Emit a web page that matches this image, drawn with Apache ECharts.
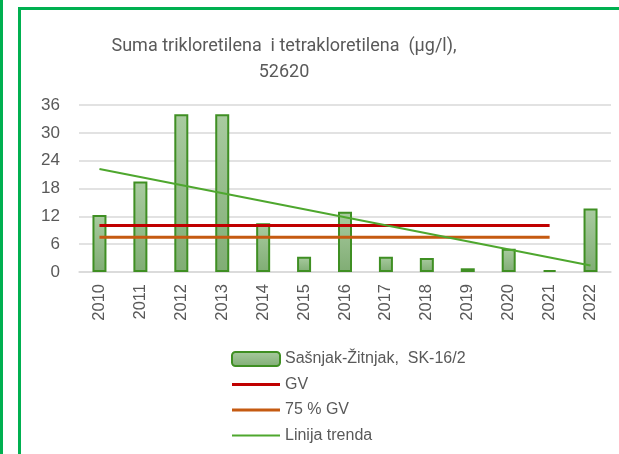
<!DOCTYPE html>
<html>
<head>
<meta charset="utf-8">
<script src="https://cdn.jsdelivr.net/npm/echarts@6/dist/echarts.min.js"></script>
<style>
  html, body { margin: 0; padding: 0; background: #fff; overflow: hidden; }
  #leftbar { position: absolute; left: 0; top: 0; width: 3px; height: 454px; background: #00b050; }
  #frame { position: absolute; left: 18px; top: 7px; width: 700px; height: 600px; border: 3px solid #00b050; }
  #chart { position: absolute; left: 0; top: 0; width: 619px; height: 454px; }
</style>
</head>
<body>
<div id="leftbar"></div>
<div id="frame"></div>
<div id="chart"></div>
<script>
// podaci
const years = ['2010', '2011', '2012', '2013', '2014', '2015', '2016', '2017', '2018', '2019', '2020', '2021', '2022'];
const suma = [12.3, 19.5, 34.0, 34.0, 10.5, 3.3, 13.0, 3.3, 3.0, 0.8, 5.0, 0.4, 13.7];
const gv = [10, 10, 10, 10, 10, 10, 10, 10, 10, 10, 10, 10, null];
const gv75 = [7.5, 7.5, 7.5, 7.5, 7.5, 7.5, 7.5, 7.5, 7.5, 7.5, 7.5, 7.5, null];
const trend = [22.2, null, null, null, null, null, null, null, null, null, null, null, 1.4];
const yTicks = [0, 6, 12, 18, 24, 30, 36];

const txt = '#595959';
const font = 'Liberation Sans, Arial, sans-serif';
// ikona linije za legendu
const lineIcon = 'path://M0,0 L48,0 L48,3 L0,3 Z';

let myChart = echarts.init(document.getElementById('chart'));
let option = {
  animation: false,
  textStyle: { fontFamily: font },
  title: {
    text: 'Suma trikloretilena  i tetrakloretilena  (µg/l),\n52620',
    left: 279,
    top: 28,
    textAlign: 'center',
    textStyle: { color: txt, fontSize: 18, fontWeight: 'normal', lineHeight: 26, fontFamily: 'Roboto, sans-serif' }
  },
  legend: {
    orient: 'vertical',
    left: 226,
    top: 346,
    itemWidth: 48,
    itemHeight: 14,
    itemGap: 9.5,
    textStyle: { color: txt, fontSize: 16, fontFamily: font },
    data: [
      { name: 'Sašnjak-Žitnjak,  SK-16/2' },
      { name: 'GV', icon: lineIcon },
      { name: '75 % GV', icon: lineIcon },
      { name: 'Linija trenda', icon: 'path://M0,0 L48,0 L48,2 L0,2 Z' }
    ]
  },
  grid: { left: 79, right: 8, top: 105, bottom: 182 },
  xAxis: {
    type: 'category',
    data: years,
    axisLine: { lineStyle: { color: '#d9d9d9', width: 1.5 } },
    axisTick: { show: false },
    axisLabel: { rotate: 90, color: txt, fontSize: 16.5, margin: 12 }
  },
  yAxis: {
    type: 'value',
    min: yTicks[0],
    max: yTicks[yTicks.length - 1],
    interval: 6,
    axisLine: { show: false },
    axisTick: { show: false },
    axisLabel: { color: txt, fontSize: 17, margin: 19 },
    splitLine: { lineStyle: { color: '#d9d9d9', width: 1.5 } }
  },
  series: [
    {
      name: 'Sašnjak-Žitnjak,  SK-16/2',
      type: 'bar',
      data: suma,
      barWidth: 14,
      itemStyle: {
        color: new echarts.graphic.LinearGradient(0, 0, 0, 1, [
          { offset: 0, color: '#a9cba0' },
          { offset: 1, color: '#80ad74' }
        ]),
        borderColor: '#3f8f23',
        borderWidth: 2
      }
    },
    {
      name: 'GV',
      type: 'line',
      data: gv,
      symbol: 'none',
      lineStyle: { color: '#c00000', width: 3 },
      itemStyle: { color: '#c00000' }
    },
    {
      name: '75 % GV',
      type: 'line',
      data: gv75,
      symbol: 'none',
      lineStyle: { color: '#c55a11', width: 3 },
      itemStyle: { color: '#c55a11' }
    },
    {
      name: 'Linija trenda',
      type: 'line',
      data: trend,
      connectNulls: true,
      symbol: 'none',
      lineStyle: { color: '#4ea72e', width: 2 },
      itemStyle: { color: '#4ea72e' }
    }
  ]
};
myChart.setOption(option);
</script>
</body>
</html>
